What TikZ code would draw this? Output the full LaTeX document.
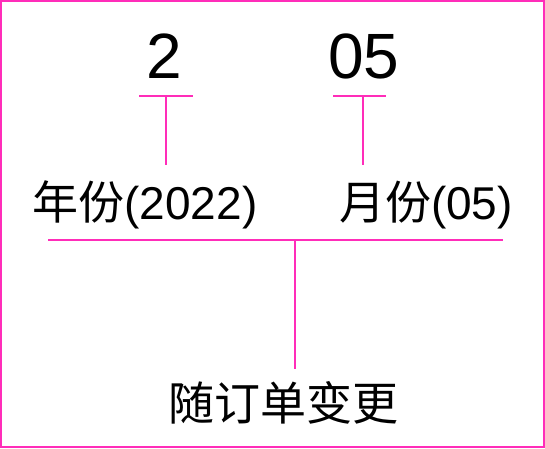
\documentclass[tikz,border=0pt]{standalone}
\usepackage{fontspec}
\setmainfont{Liberation Sans}
\newfontfamily\cjk{Noto Sans CJK SC}
\definecolor{rose}{RGB}{255,45,185}
\tikzset{
  lien/.style={draw=rose,line width=1.4pt},
  chiffre/.style={inner sep=0,font=\fontsize{64}{64}\selectfont},
  champ/.style={inner sep=0,minimum height=80pt,font=\fontsize{46}{46}\selectfont},
}
\begin{document}
\begin{tikzpicture}[x=1pt,y=-1pt]
\useasboundingbox (0,0) rectangle (545,448);
\draw[lien] (1,1) rectangle (544,447);
\node[chiffre] (an) at (164,56) {2};
\node[chiffre] (mois) at (364,56) {05};
\node[champ] (annee) at (145,205) {{\cjk 年份}(2022)};
\node[champ] (mensuel) at (426,205) {{\cjk 月份}(05)};
\node[champ,minimum height=68pt] (regle) at (283,403) {\cjk 随订单变更};
\coordinate (t1) at (166,96);
\coordinate (t2) at (363,96);
\coordinate (barre) at (295,240);
\draw[lien] ([xshift=-27]t1) -- ([xshift=27]t1);
\draw[lien] (t1) -- (t1 |- annee.north);
\draw[lien] ([xshift=-30]t2) -- ([xshift=23]t2);
\draw[lien] (t2) -- (t2 |- mensuel.north);
\draw[lien] ([xshift=-247]barre) -- ([xshift=208]barre);
\draw[lien] (barre) -- (barre |- regle.north);
\end{tikzpicture}
\end{document}
